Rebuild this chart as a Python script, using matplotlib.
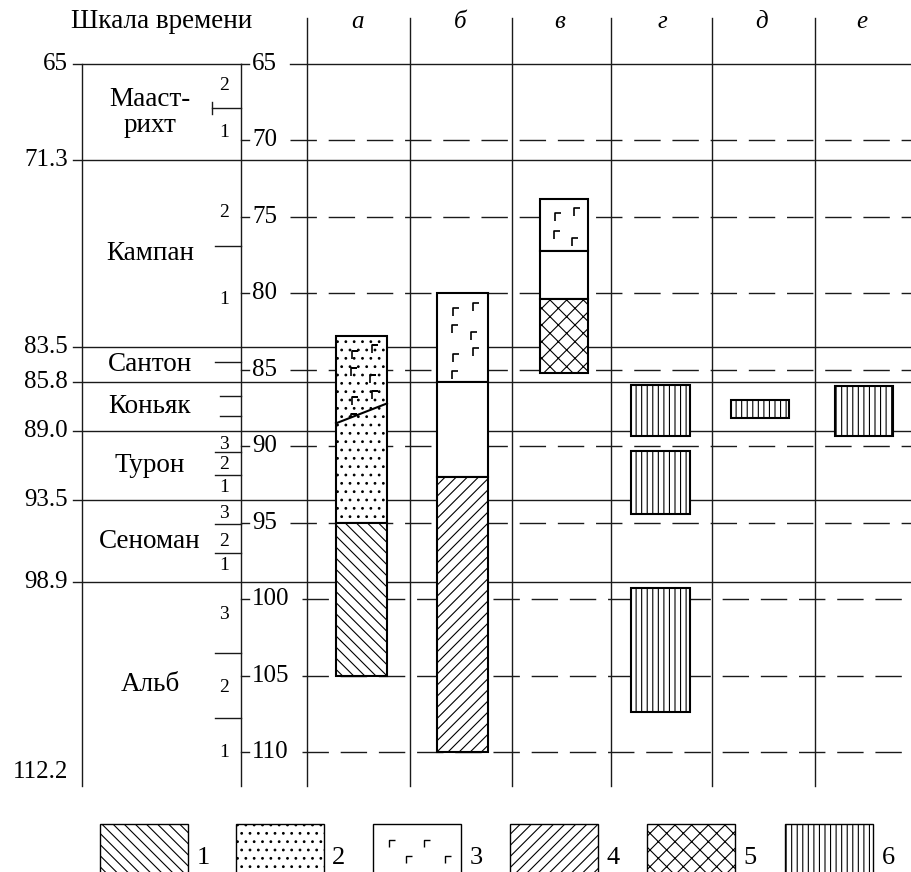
import numpy as np
import matplotlib
matplotlib.use("Agg")
import matplotlib.pyplot as plt
from matplotlib.patches import Rectangle, Polygon
from matplotlib.path import Path

plt.rcParams["font.family"] = ["Liberation Serif", "DejaVu Serif"]
plt.rcParams["hatch.color"] = "black"
plt.rcParams["hatch.linewidth"] = 0.8


# =========================
# ДАННЫЕ
# =========================

stage_names = ["Мааст-\nрихт", "Кампан", "Сантон", "Коньяк", "Турон", "Сеноман", "Альб"]
stage_bounds = [65.0, 71.3, 83.5, 85.8, 89.0, 93.5, 98.9, 112.2]
stage_bound_labels = ["65", "71.3", "83.5", "85.8", "89.0", "93.5", "98.9", "112.2"]

# границы подъярусов и их номера
substage_ticks = [67.9, 76.9, 84.5, 86.7, 88.0, 90.4, 91.9, 95.1, 97.0, 103.5, 107.8]
substage_labels = ["2", "1", "2", "1", "3", "2", "1", "3", "2", "1", "3", "2", "1"]
substage_label_ages = [66.4, 69.5, 74.7, 80.4, 89.9, 91.2, 92.7, 94.4, 96.2, 97.8,
                       101.0, 105.8, 110.0]

scale_ticks = [65, 70, 75, 80, 85, 90, 95, 100, 105, 110]

column_names = ["а", "б", "в", "г", "д", "е"]

# интервалы по колонкам: кровля, подошва, тип штриховки (0 - без заливки)
col_a_top = [82.8, 95.0]
col_a_bot = [95.0, 105.0]
col_a_pat = [2, 1]
a_basalt_contact = [88.5, 87.2]   # наклонная граница базальтов (лев., прав.)

col_b_top = [80.0, 85.8, 92.0]
col_b_bot = [85.8, 92.0, 110.0]
col_b_pat = [3, 0, 4]

col_v_top = [73.8, 77.2, 80.4]
col_v_bot = [77.2, 80.4, 85.2]
col_v_pat = [3, 0, 5]

col_g_top = [86.0, 90.3, 99.3]
col_g_bot = [89.3, 94.4, 107.4]
col_g_pat = [6, 6, 6]

col_d_top = [87.0]
col_d_bot = [88.15]
col_d_pat = [6]

col_e_top = [86.05]
col_e_bot = [89.35]
col_e_pat = [6]

legend_labels = ["1", "2", "3", "4", "5", "6"]


# =========================
# РАЗМЕТКА
# =========================

W, H = 912, 872
PX_PER_MY = 15.29
Y65 = 64.0  # пиксель возраста 65 млн лет

def px_age(py):
    return 65.0 + (py - Y65) / PX_PER_MY

HATCH = {1: "\\\\\\", 2: "..", 4: "///", 5: "xx", 6: "|||"}
LINE_C = "#1a1a1a"

STAGE_X0, STAGE_X1 = 82, 241
SEP_X = [307, 410, 512, 611, 712, 815]
HEAD_X = [358, 460, 560, 662, 762, 862]
BOX_X = [336, 437, 540, 631, 731, 835]
BOX_W = [51, 51, 48, 59, 58, 58]

basalt_marker = Path([(0, -1), (0, 0), (0.8, 0)],
                     [Path.MOVETO, Path.LINETO, Path.LINETO])

fig = plt.figure(figsize=(W / 100, H / 100), dpi=100)
ax = fig.add_axes([0, 0, 1, 1])
ax.set_xlim(0, W)
ax.set_ylim(px_age(H), px_age(0))
ax.axis("off")

bottom_age = stage_bounds[-1]
top_sep = px_age(18)


def basalt(ax, x0, w, top, bot, clip=None):
    # значки базальтов "Г" в шахматном порядке
    rows = np.arange(top + 0.6, bot - 0.4, 1.5)
    xs_all, ys_all = [], []
    for i, yy in enumerate(rows):
        if i % 2 == 0:
            pts = [(0.32, yy + 0.35), (0.7, yy)]
        else:
            pts = [(0.3, yy), (0.66, yy + 0.45)]
        for f, y in pts:
            if y < bot - 0.3:
                xs_all.append(x0 + f * w)
                ys_all.append(y)
    ln, = ax.plot(xs_all, ys_all, ls="none", marker=basalt_marker, ms=11,
                  mfc="none", mec="black", mew=1.2, zorder=5)
    if clip is not None:
        ln.set_clip_path(clip)


# вертикальные линии
ax.plot([STAGE_X0, STAGE_X0], [65, bottom_age], color=LINE_C, lw=1.0)
ax.plot([STAGE_X1, STAGE_X1], [65, bottom_age], color=LINE_C, lw=1.0)
for sx in SEP_X:
    ax.plot([sx, sx], [top_sep, bottom_age], color=LINE_C, lw=1.0)

# границы ярусов
for b, lab in zip(stage_bounds, stage_bound_labels):
    if b == 65.0:
        ax.plot([73, STAGE_X1], [b, b], color=LINE_C, lw=1.0)
        ax.plot([290, W], [b, b], color=LINE_C, lw=1.0)
        ax.text(68, b, lab, ha="right", va="center", fontsize=18)
    elif b == bottom_age:
        ax.text(68, b - 0.2, lab, ha="right", va="bottom", fontsize=18)
    else:
        ax.plot([73, W], [b, b], color=LINE_C, lw=1.0)
        ax.text(68, b, lab, ha="right", va="center", fontsize=18)

# названия ярусов
for name, t, b in zip(stage_names, stage_bounds[:-1], stage_bounds[1:]):
    ax.text(150, (t + b) / 2, name, ha="center", va="center", fontsize=19.5,
            linespacing=1.05)

# подъярусы
for tk in substage_ticks:
    x_start = 220 if 86 < tk < 89 else 215
    if tk < 70:
        x_start = 212
        ax.plot([x_start, x_start], [tk - 0.4, tk + 0.4], color=LINE_C, lw=1.0)
    ax.plot([x_start, STAGE_X1], [tk, tk], color=LINE_C, lw=1.0)
for lab, a in zip(substage_labels, substage_label_ages):
    ax.text(224, a, lab, ha="center", va="center", fontsize=14)

# шкала времени
for t in scale_ticks:
    ax.plot([STAGE_X1, 249], [t, t], color=LINE_C, lw=1.0)
    ax.text(252, t, str(t), ha="left", va="center", fontsize=18)
    x_start = 290 if t < 100 else 302
    if t == 65:
        continue
    ax.plot([x_start, W], [t, t], color=LINE_C, lw=1.0, dashes=(19, 8.5))

# заголовки
ax.text(162, px_age(22), "Шкала времени", ha="center", va="center", fontsize=19.5)
for name, hx in zip(column_names, HEAD_X):
    ax.text(hx, px_age(22), name, ha="center", va="center", fontsize=18,
            style="italic")

# колонки
columns = [
    (col_a_top, col_a_bot, col_a_pat),
    (col_b_top, col_b_bot, col_b_pat),
    (col_v_top, col_v_bot, col_v_pat),
    (col_g_top, col_g_bot, col_g_pat),
    (col_d_top, col_d_bot, col_d_pat),
    (col_e_top, col_e_bot, col_e_pat),
]

for (tops, bots, pats), x0, w in zip(columns, BOX_X, BOX_W):
    for t, b, p in zip(tops, bots, pats):
        r = Rectangle((x0, t), w, b - t, facecolor="white", edgecolor="black",
                      lw=1.5, hatch=HATCH.get(p), zorder=3)
        ax.add_patch(r)
        if p == 3:
            basalt(ax, x0, w, t, b)

# базальты в колонке "а" поверх точек
x0, w = BOX_X[0], BOX_W[0]
poly = Polygon([(x0, col_a_top[0]), (x0 + w, col_a_top[0]),
                (x0 + w, a_basalt_contact[1]), (x0, a_basalt_contact[0])],
               closed=True, facecolor="none", edgecolor="none", zorder=4)
ax.add_patch(poly)
basalt(ax, x0, w, col_a_top[0], a_basalt_contact[0], clip=poly)
ax.plot([x0, x0 + w], a_basalt_contact, color="black", lw=1.5, zorder=6)


# =========================
# ЛЕГЕНДА
# =========================

lg = fig.add_axes([0, 0, 1, 60 / H])
lg.set_xlim(0, W)
lg.set_ylim(60, 0)
lg.axis("off")

LEG_X = [100, 236, 373, 510, 647, 785]
LEG_W = 88
leg_pats = [1, 2, 3, 4, 5, 6]
for lab, p, lx in zip(legend_labels, leg_pats, LEG_X):
    r = Rectangle((lx, 12), LEG_W, 70, facecolor="white", edgecolor="black",
                  lw=1.0, hatch=HATCH.get(p))
    lg.add_patch(r)
    if p == 3:
        for fx, fy in [(0.18, 28), (0.58, 28), (0.38, 44), (0.82, 44)]:
            lg.plot(lx + fx * LEG_W, fy, ls="none", marker=basalt_marker, ms=10,
                    mfc="none", mec="black", mew=1.0)
    lg.text(lx + LEG_W + 15, 46, lab, ha="center", va="center", fontsize=19)

fig.savefig("out.png", dpi=100)
